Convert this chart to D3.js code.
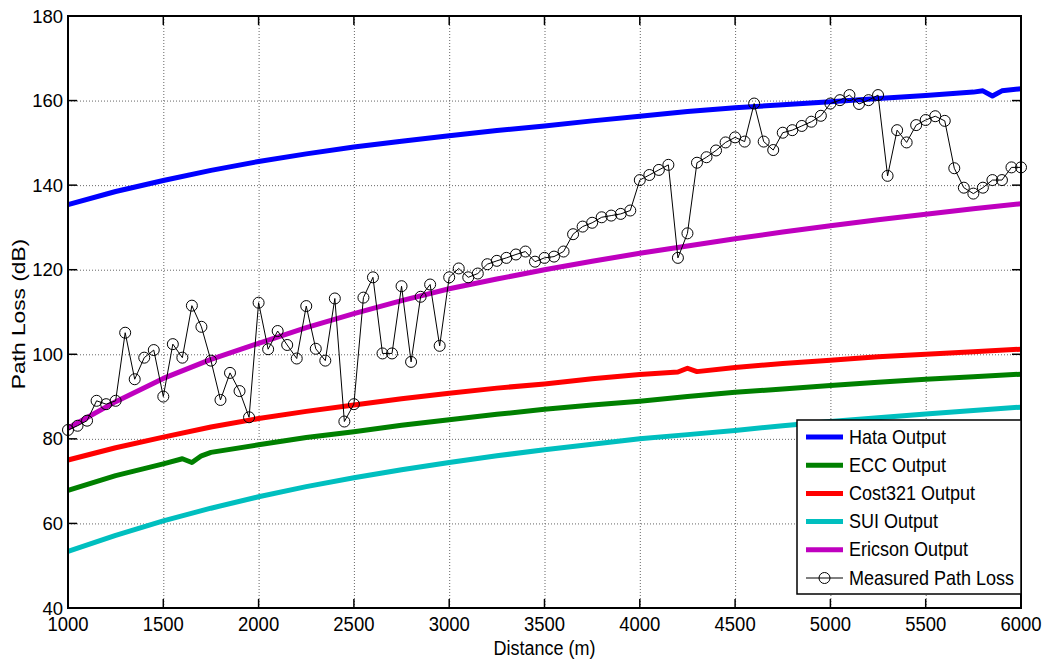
<!DOCTYPE html>
<html>
<head>
<meta charset="utf-8">
<script src="https://cdn.jsdelivr.net/npm/d3@7"></script>
<style>
  body { margin: 0; background: #fff; }
  svg { display: block; font-family: "Liberation Sans", Arial, sans-serif; }
</style>
</head>
<body>
<script>
// tick labels
const xTicks = [1000, 1500, 2000, 2500, 3000, 3500, 4000, 4500, 5000, 5500, 6000];
const yTicks = [40, 60, 80, 100, 120, 140, 160, 180];

// model outputs (distance in m, path loss in dB)
const hataDist = [1000, 1250, 1500, 1750, 2000, 2250, 2500, 2750, 3000, 3250, 3500, 3750, 4000, 4250, 4500, 4750, 5000, 5250, 5500, 5750, 5800, 5850, 5900, 6000];
const hataLoss = [135.4, 138.5, 141.1, 143.5, 145.6, 147.4, 149.0, 150.4, 151.7, 152.9, 154.0, 155.2, 156.3, 157.4, 158.3, 159.0, 159.7, 160.5, 161.2, 162.0, 162.3, 161.1, 162.3, 162.8];

const eccDist = [1000, 1250, 1500, 1600, 1650, 1700, 1750, 2000, 2250, 2500, 2750, 3000, 3250, 3500, 3750, 4000, 4250, 4500, 4750, 5000, 5250, 5500, 5750, 6000];
const eccLoss = [67.8, 71.3, 74.1, 75.3, 74.4, 76.0, 76.8, 78.6, 80.3, 81.7, 83.2, 84.5, 85.8, 87.0, 88.0, 88.9, 90.0, 91.0, 91.8, 92.6, 93.4, 94.1, 94.7, 95.3];

const costDist = [1000, 1250, 1500, 1750, 2000, 2250, 2500, 2750, 3000, 3250, 3500, 3750, 4000, 4200, 4250, 4300, 4500, 4750, 5000, 5250, 5500, 5750, 6000];
const costLoss = [75.0, 77.9, 80.4, 82.8, 84.8, 86.5, 88.0, 89.5, 90.8, 92.0, 93.0, 94.2, 95.2, 95.8, 96.7, 95.9, 96.9, 97.8, 98.6, 99.4, 100.0, 100.6, 101.2];

const suiDist = [1000, 1250, 1500, 1750, 2000, 2250, 2500, 2750, 3000, 3250, 3500, 3750, 4000, 4250, 4500, 4750, 5000, 5250, 5500, 5750, 6000];
const suiLoss = [53.4, 57.2, 60.6, 63.6, 66.3, 68.7, 70.8, 72.7, 74.4, 76.0, 77.4, 78.7, 80.0, 81.0, 82.0, 83.1, 84.1, 85.0, 85.9, 86.7, 87.5];

const ericDist = [1000, 1250, 1500, 1750, 2000, 2250, 2500, 2750, 3000, 3250, 3500, 3750, 4000, 4250, 4500, 4750, 5000, 5250, 5500, 5750, 6000];
const ericLoss = [82.5, 88.8, 94.3, 98.8, 102.6, 106.3, 109.6, 112.7, 115.5, 117.8, 120.0, 122.0, 123.9, 125.6, 127.3, 128.9, 130.4, 131.8, 133.1, 134.4, 135.6];

// measured path loss, every 50 m from 1000 to 6000
const measuredDist = d3.range(1000, 6001, 50);
const measuredLoss = [
  82.1, 83.1, 84.3, 89.0, 88.2, 89.0, 105.1, 94.1, 99.2, 101.0,
  90.0, 102.4, 99.2, 111.5, 106.5, 98.5, 89.2, 95.6, 91.3, 85.1,
  112.2, 101.2, 105.5, 102.2, 99.0, 111.4, 101.3, 98.5, 113.2, 84.1,
  88.2, 113.4, 118.2, 100.2, 100.2, 116.1, 98.2, 113.6, 116.5, 102.0,
  118.2, 120.3, 118.2, 119.1, 121.3, 122.1, 122.8, 123.6, 124.3, 121.9,
  122.8, 123.1, 124.3, 128.4, 130.2, 131.1, 132.4, 132.8, 133.2, 134.0,
  141.2, 142.4, 143.6, 144.8, 122.8, 128.6, 145.3, 146.6, 148.2, 150.1,
  151.3, 150.3, 159.3, 150.3, 148.3, 152.4, 153.0, 154.0, 155.0, 156.4,
  159.3, 160.1, 161.3, 159.2, 160.1, 161.3, 142.2, 153.0, 150.1, 154.2,
  155.4, 156.3, 155.2, 144.0, 139.4, 138.0, 139.4, 141.2, 141.2, 144.2,
  144.2
];

const seriesNames = ["Hata Output", "ECC Output", "Cost321 Output", "SUI Output", "Ericson Output"];
const seriesColors = ["#0000ff", "#008000", "#ff0000", "#00bfbf", "#bf00bf"];

const W = 1047, H = 662;
const plotLeft = 68, plotRight = 1021, plotTop = 16, plotBottom = 608;

const svg = d3.select("body").append("svg")
    .attr("width", W)
    .attr("height", H);

const x = d3.scaleLinear().domain([1000, 6000]).range([plotLeft, plotRight]);
const y = d3.scaleLinear().domain([40, 180]).range([plotBottom, plotTop]);

// grid
const grid = svg.append("g")
    .attr("stroke", "#666")
    .attr("stroke-width", 1)
    .attr("stroke-dasharray", "1,2");
grid.selectAll(".gx")
    .data(xTicks.slice(1, -1))
    .enter().append("line")
    .attr("x1", d => x(d) + 0.5).attr("x2", d => x(d) + 0.5)
    .attr("y1", plotTop).attr("y2", plotBottom);
grid.selectAll(".gy")
    .data(yTicks.slice(1, -1))
    .enter().append("line")
    .attr("x1", plotLeft).attr("x2", plotRight)
    .attr("y1", d => y(d) + 0.5).attr("y2", d => y(d) + 0.5);

// model lines
const models = [
  { dist: hataDist, loss: hataLoss },
  { dist: eccDist, loss: eccLoss },
  { dist: costDist, loss: costLoss },
  { dist: suiDist, loss: suiLoss },
  { dist: ericDist, loss: ericLoss }
];

const line = d3.line()
    .x(d => x(d[0]))
    .y(d => y(d[1]));

models.forEach((m, i) => {
    svg.append("path")
        .datum(m.dist.map((d, j) => [d, m.loss[j]]))
        .attr("fill", "none")
        .attr("stroke", seriesColors[i])
        .attr("stroke-width", 5)
        .attr("stroke-linejoin", "round")
        .attr("d", line);
});

// measured
const measured = measuredDist.map((d, j) => [d, measuredLoss[j]]);
svg.append("path")
    .datum(measured)
    .attr("fill", "none")
    .attr("stroke", "#000")
    .attr("stroke-width", 1)
    .attr("d", line);
svg.append("g")
    .selectAll("circle")
    .data(measured)
    .enter().append("circle")
    .attr("cx", d => x(d[0]))
    .attr("cy", d => y(d[1]))
    .attr("r", 5.5)
    .attr("fill", "none")
    .attr("stroke", "#000")
    .attr("stroke-width", 1);

// axes box and ticks (inside, on all four sides)
const ticks = svg.append("g").attr("stroke", "#000").attr("stroke-width", 1.5);
xTicks.forEach(t => {
    ticks.append("line").attr("x1", x(t)).attr("x2", x(t)).attr("y1", plotBottom).attr("y2", plotBottom - 9);
    ticks.append("line").attr("x1", x(t)).attr("x2", x(t)).attr("y1", plotTop).attr("y2", plotTop + 9);
});
yTicks.forEach(t => {
    ticks.append("line").attr("x1", plotLeft).attr("x2", plotLeft + 9).attr("y1", y(t)).attr("y2", y(t));
    ticks.append("line").attr("x1", plotRight).attr("x2", plotRight - 9).attr("y1", y(t)).attr("y2", y(t));
});
svg.append("rect")
    .attr("x", plotLeft).attr("y", plotTop)
    .attr("width", plotRight - plotLeft).attr("height", plotBottom - plotTop)
    .attr("fill", "none")
    .attr("stroke", "#000")
    .attr("stroke-width", 2);

// tick labels
svg.append("g").selectAll("text")
    .data(xTicks)
    .enter().append("text")
    .attr("transform", d => `translate(${x(d)}, 631) scale(1, 1.12)`)
    .attr("text-anchor", "middle")
    .attr("font-size", 18.5)
    .text(d => d);
svg.append("g").selectAll("text")
    .data(yTicks)
    .enter().append("text")
    .attr("x", 63)
    .attr("y", d => y(d) + 6.5)
    .attr("text-anchor", "end")
    .attr("font-size", 18.5)
    .text(d => d);

// axis titles
svg.append("text")
    .attr("transform", `translate(${(plotLeft + plotRight) / 2}, 655) scale(1, 1.1)`)
    .attr("text-anchor", "middle")
    .attr("font-size", 18)
    .text("Distance (m)");
svg.append("text")
    .attr("transform", `translate(25, ${(plotTop + plotBottom) / 2 + 2}) rotate(-90) scale(1.3, 1)`)
    .attr("text-anchor", "middle")
    .attr("font-size", 17.5)
    .text("Path Loss (dB)");

// legend
const lg = svg.append("g").attr("transform", "translate(797, 420)");
lg.append("rect")
    .attr("width", 224).attr("height", 174)
    .attr("fill", "#fff")
    .attr("stroke", "#000")
    .attr("stroke-width", 1.5);
const legendNames = seriesNames.concat(["Measured Path Loss"]);
legendNames.forEach((name, i) => {
    const ly = 17 + i * 28.2;
    if (i < seriesNames.length) {
        lg.append("line")
            .attr("x1", 9).attr("x2", 46)
            .attr("y1", ly).attr("y2", ly)
            .attr("stroke", seriesColors[i])
            .attr("stroke-width", 5);
    } else {
        lg.append("line")
            .attr("x1", 9).attr("x2", 46)
            .attr("y1", ly).attr("y2", ly)
            .attr("stroke", "#000")
            .attr("stroke-width", 1);
        lg.append("circle")
            .attr("cx", 27.5).attr("cy", ly).attr("r", 5.5)
            .attr("fill", "none").attr("stroke", "#000");
    }
    lg.append("text")
        .attr("transform", `translate(52, ${ly + 6.5}) scale(1, 1.08)`)
        .attr("font-size", 18)
        .text(name);
});
</script>
</body>
</html>
